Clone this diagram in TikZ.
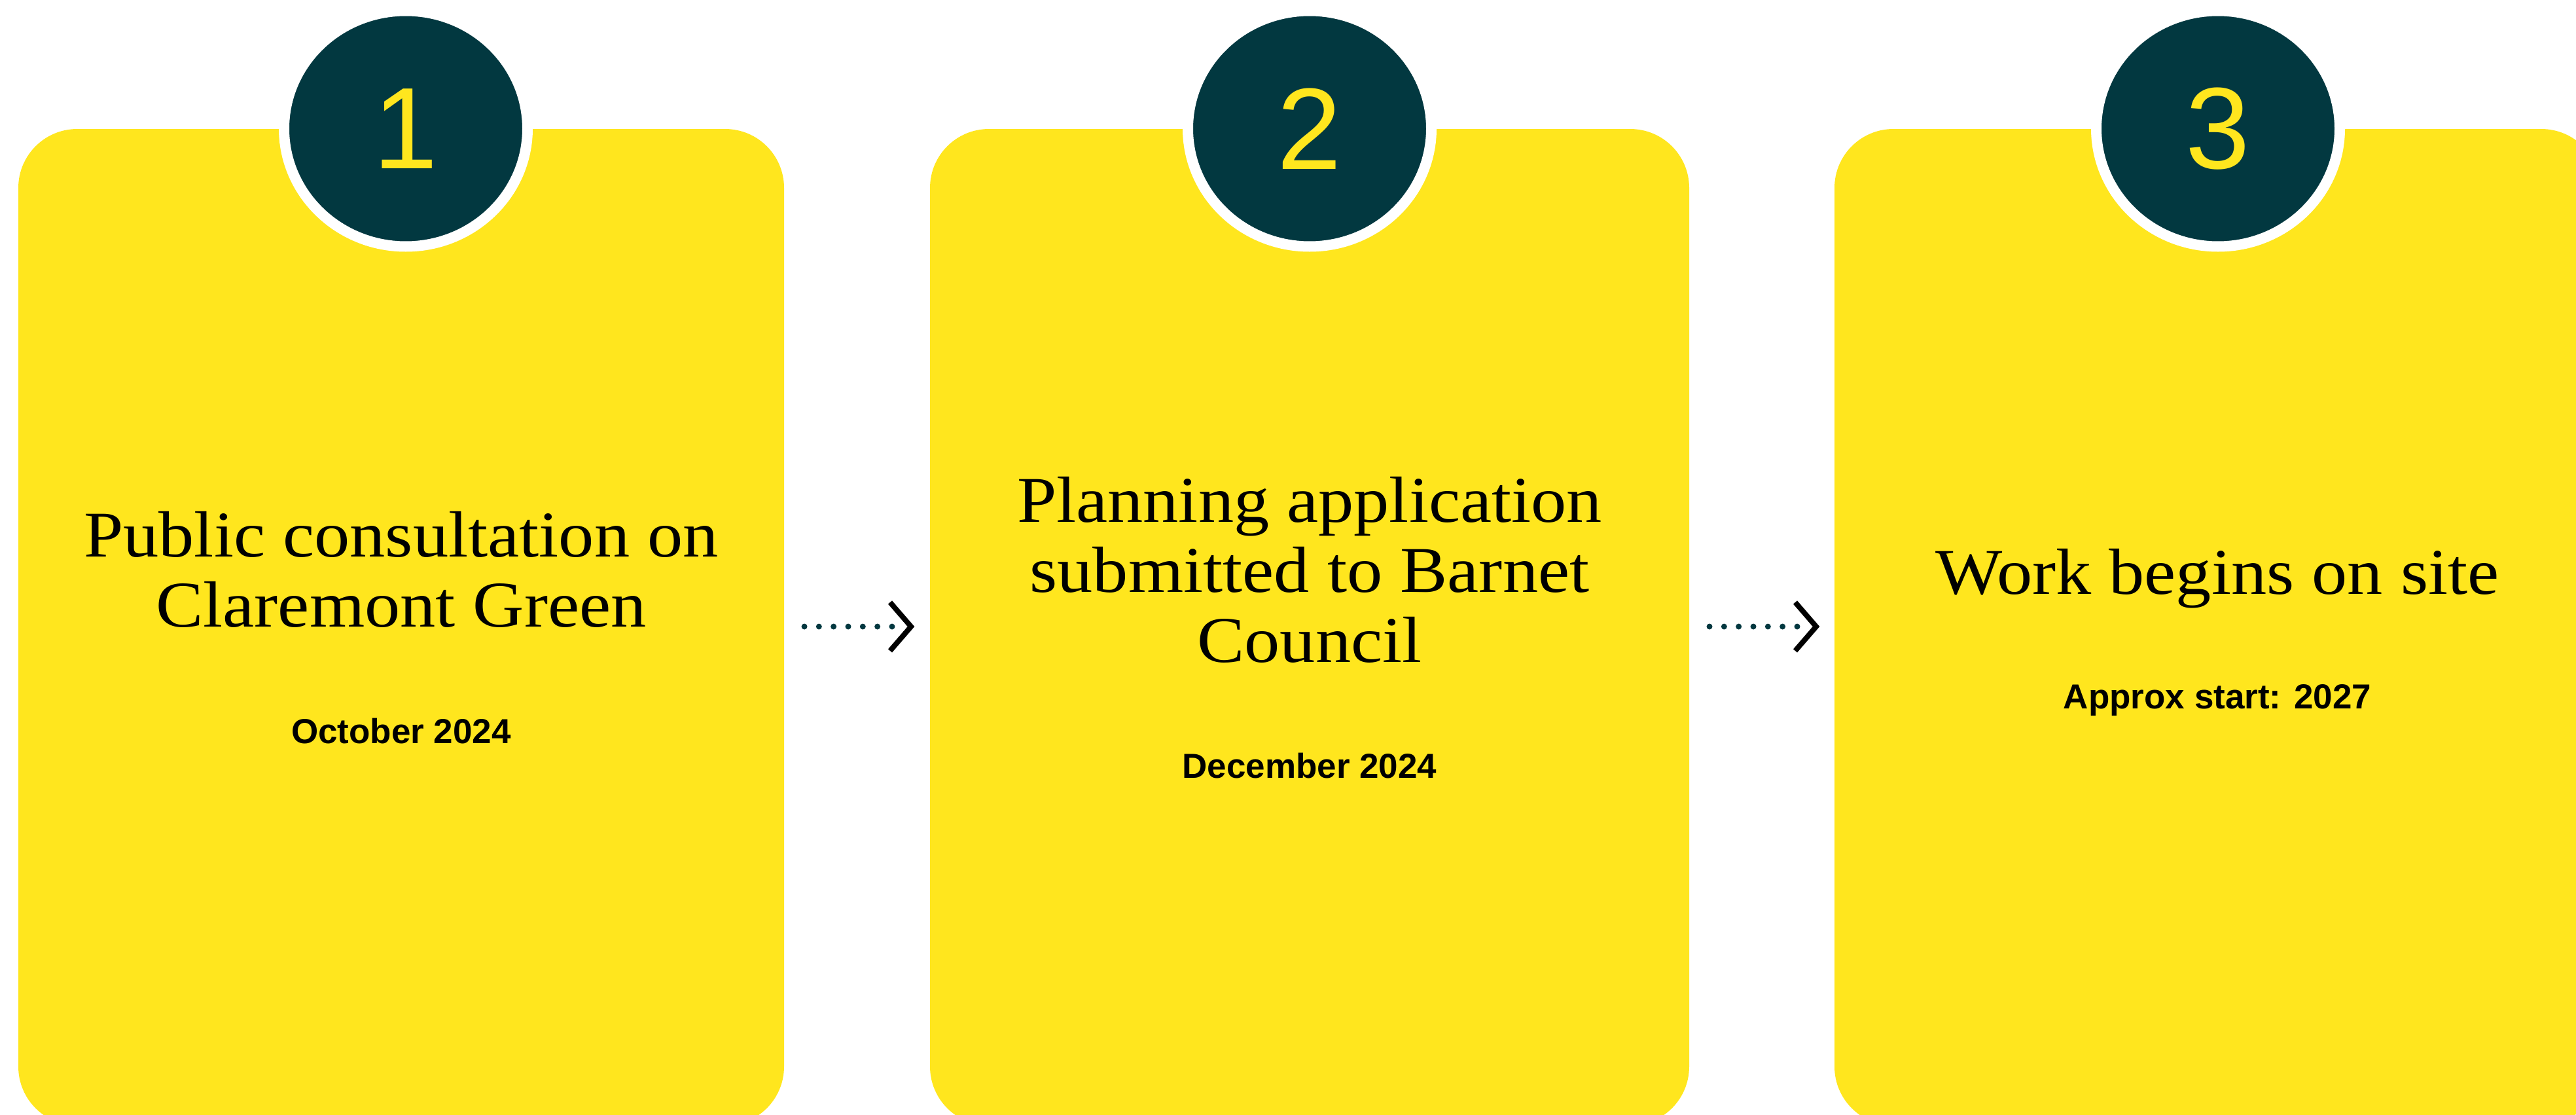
\documentclass[tikz,border=0pt]{standalone}
\usepackage{fontspec}
\setmainfont{Liberation Serif}
\newfontfamily\titleserif[FakeStretch=1.087]{Liberation Serif}
\newfontfamily\labelsans{Liberation Sans}
\usepackage{tikz}
\usetikzlibrary{shapes.geometric}

\definecolor{cardyellow}{HTML}{FFE61E}
\definecolor{discteal}{HTML}{023840}

\begin{document}
\begin{tikzpicture}[
  card/.style={fill=cardyellow, rounded corners=0.9cm, minimum height=15.22cm, inner sep=0pt},
  numdisc/.style={ellipse, fill=discteal, draw=white, line width=0.16cm, minimum width=3.72cm, minimum height=3.60cm, inner sep=0pt, text=cardyellow, font=\labelsans\fontsize{1.77cm}{2cm}\selectfont},
  steptitle/.style={align=center, font=\titleserif\fontsize{0.997cm}{1.07cm}\selectfont, execute at begin node=\strut, execute at end node=\strut},
  stepdate/.style={anchor=base, font=\labelsans\bfseries\fontsize{0.53cm}{0.64cm}\selectfont},
  dots/.style={discteal, line width=0.09cm, line cap=round, dash pattern=on 0pt off 0.2233cm},
  chev/.style={black, line width=0.08cm, miter limit=10}
]
\useasboundingbox (0,0) rectangle (39.36,-17.03);
\clip (0,0) rectangle (39.36,-17.03);

% cards
\node[card, minimum width=11.70cm] (card1) at (6.13,-9.58) {};
\node[card, minimum width=11.60cm] (card2) at (20.01,-9.58) {};
\node[card, minimum width=11.70cm] (card3) at (33.88,-9.58) {};

% numbers
\node[numdisc] (num1) at (6.20,-1.965) {1};
\node[numdisc] (num2) at (20.01,-1.965) {2};
\node[numdisc] (num3) at (33.89,-1.965) {3};

% texts
\node[steptitle] (title1) at (6.13,-8.856) {Public consultation on\\Claremont Green};
\node[stepdate] (date1) at (6.13,-11.35) {October 2024};
\node[steptitle] (title2) at (20.01,-8.856) {Planning application\\submitted to Barnet\\Council};
\node[stepdate] (date2) at (20.01,-11.88) {December 2024};
\node[steptitle] (title3) at (33.88,-8.856) {Work begins on site};
\node[stepdate] (date3) at (33.88,-10.82) {Approx start: 2027};

% arrows
\coordinate (a1s) at (12.29,-9.57);
\coordinate (a1e) at (13.635,-9.57);
\coordinate (a1t) at (13.92,-9.57);
\coordinate (a2s) at (26.12,-9.57);
\coordinate (a2e) at (27.465,-9.57);
\coordinate (a2t) at (27.75,-9.57);
\draw[dots] (a1s) -- (a1e);
\draw[chev] ([shift={(-0.32,0.37)}]a1t) -- (a1t) -- ([shift={(-0.32,-0.37)}]a1t);
\draw[dots] (a2s) -- (a2e);
\draw[chev] ([shift={(-0.32,0.37)}]a2t) -- (a2t) -- ([shift={(-0.32,-0.37)}]a2t);
\end{tikzpicture}
\end{document}
